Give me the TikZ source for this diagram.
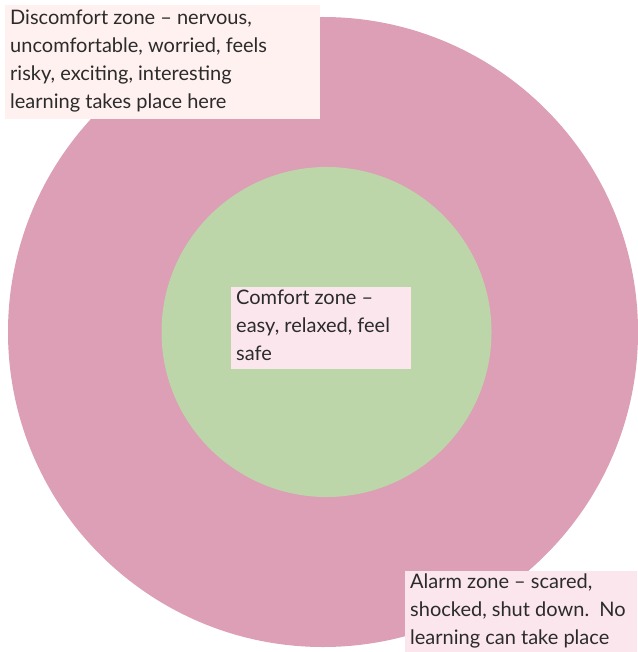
\documentclass[tikz,border=0pt]{standalone}
\usepackage{fontspec}
\setmainfont{Lato}
\definecolor{outerpink}{HTML}{DC9FB5}
\definecolor{innergreen}{HTML}{BCD6AA}
\definecolor{boxpeach}{HTML}{FFF1EF}
\definecolor{boxpink}{HTML}{FBE6EE}
\definecolor{txt}{HTML}{2B2B2B}
\begin{document}
\begin{tikzpicture}[x=1pt,y=-1pt,
  zonelabel/.style={anchor=north west, align=left, inner sep=0pt, text=txt,
    font=\fontsize{20}{28}\selectfont}]
\useasboundingbox (0,0) rectangle (637,652);
\fill[outerpink] (323,332) circle (315);
\fill[innergreen] (326.5,332) circle (165);
% boxes
\fill[boxpeach] (5,5) rectangle (320,119);
\fill[boxpink] (231,287) rectangle (411,369);
\fill[boxpink] (405,571) rectangle (637,652);
\node[zonelabel] (disc) at (10,10) {Discomfort zone – nervous,\\uncomfortable, worried, feels\\risky, exciting, interesting\\learning takes place here};
\node[zonelabel] (comf) at (236,290) {Comfort zone –\\easy, relaxed, feel\\safe};
\node[zonelabel] (alarm) at (410,574) {Alarm zone – scared,\\shocked, shut down.\ \ No\\learning can take place};
\end{tikzpicture}
\end{document}
